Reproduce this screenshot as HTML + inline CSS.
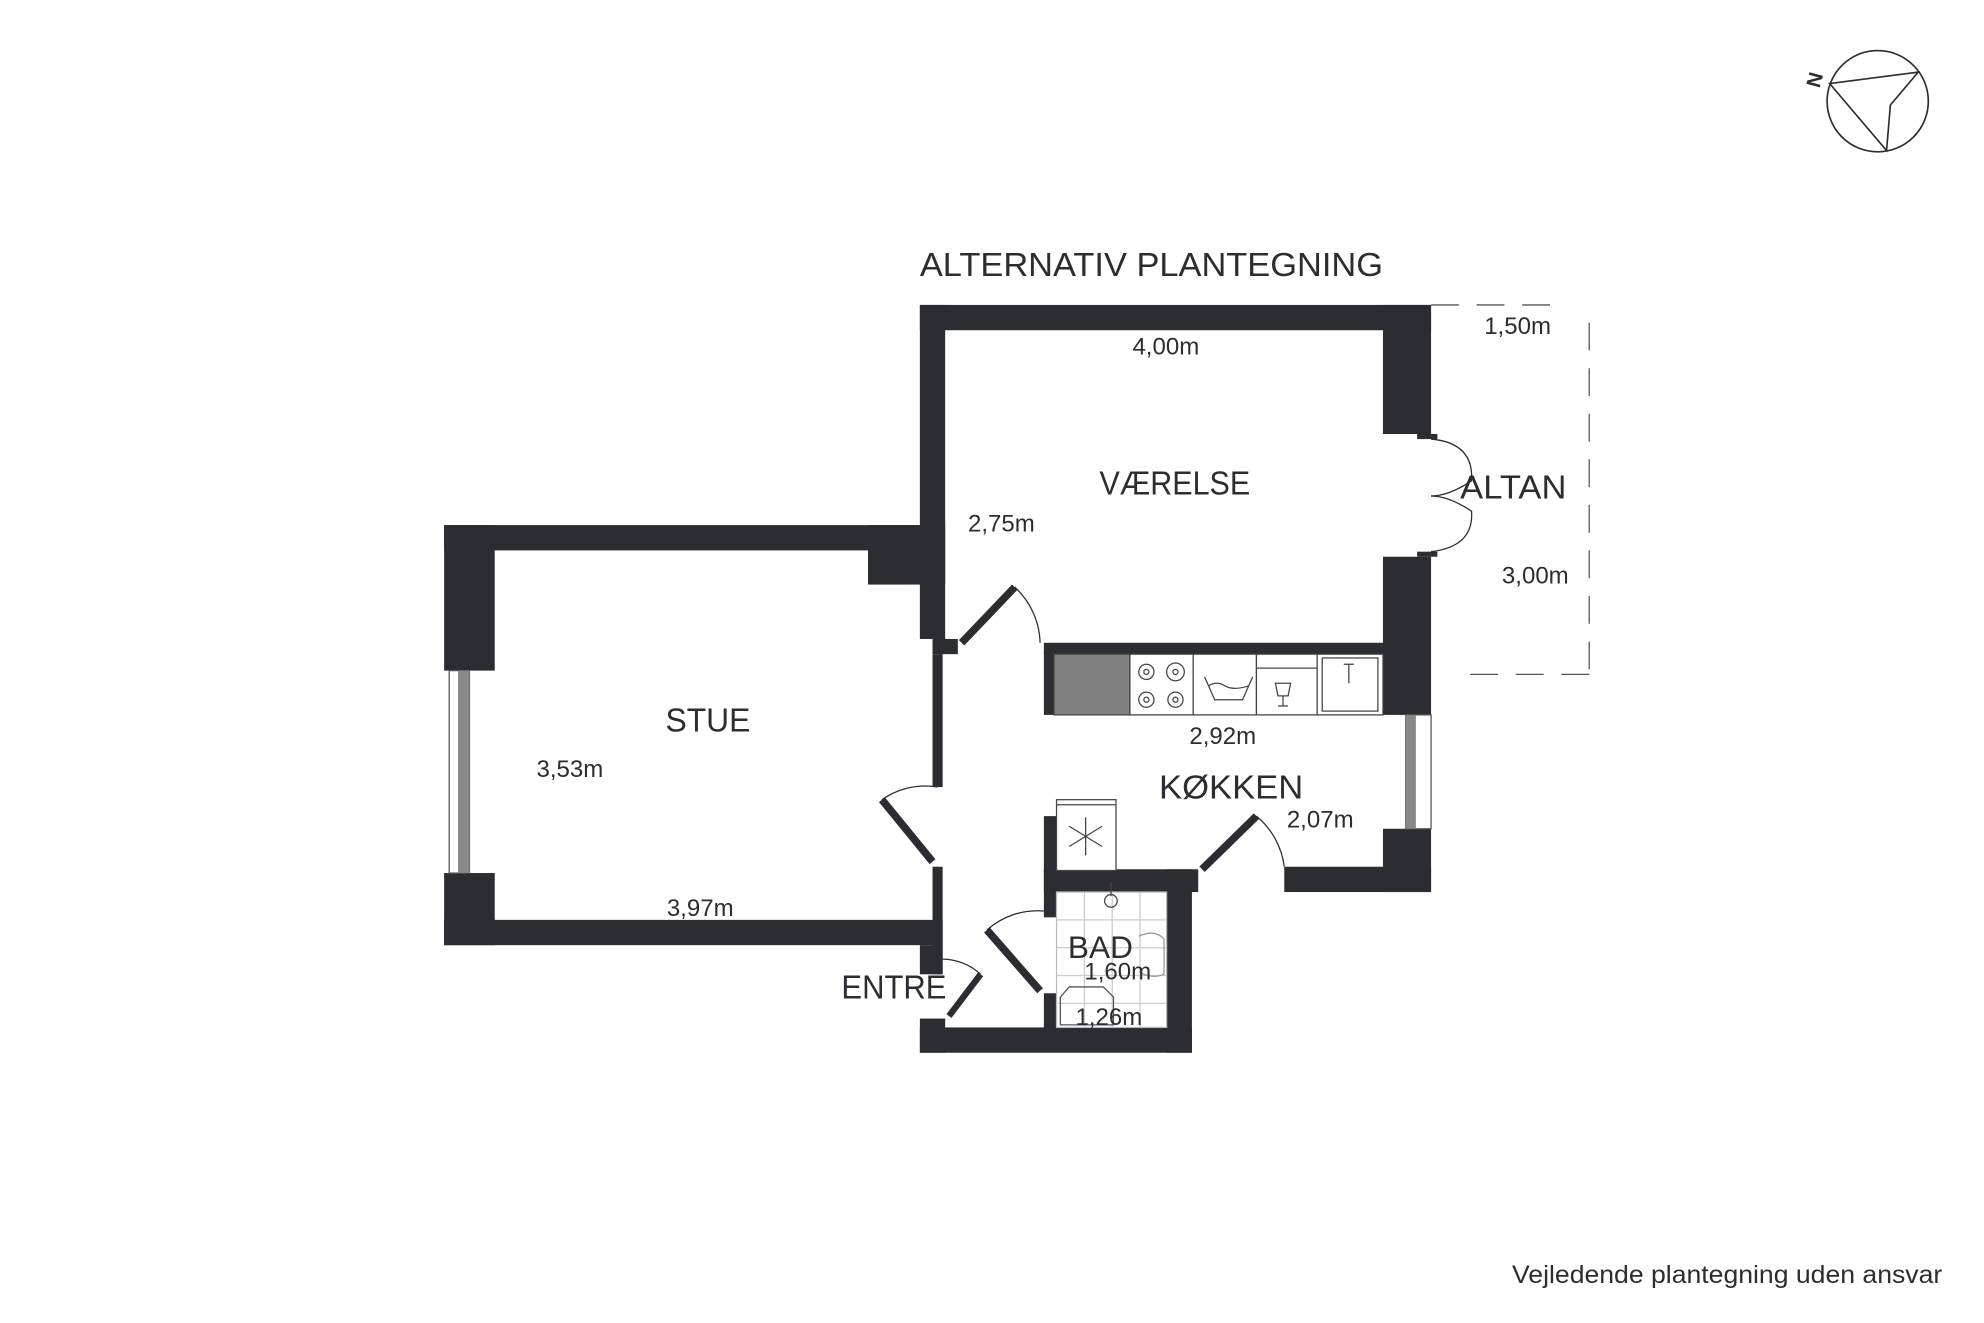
<!DOCTYPE html>
<html><head><meta charset="utf-8"><style>
html,body{margin:0;padding:0;background:#fff}
svg{display:block}
text{font-family:"Liberation Sans",sans-serif;fill:#2b2d33}
</style></head><body>
<svg width="1984" height="1323" viewBox="0 0 1568 1045.6" xmlns="http://www.w3.org/2000/svg">
<g fill="#2b2d33">
<rect x="351" y="415" width="394" height="20"/>
<rect x="351" y="415" width="40" height="115"/>
<rect x="351" y="690" width="40" height="57"/>
<rect x="351" y="727" width="394" height="20"/>
<rect x="686" y="415" width="61" height="47"/>
<rect x="727" y="241" width="404" height="20"/>
<rect x="727" y="241" width="20" height="264"/>
<rect x="737" y="505" width="20" height="12"/>
<rect x="1093" y="241" width="38" height="102"/>
<rect x="1093" y="440" width="38" height="125"/>
<rect x="1120" y="343" width="16" height="4"/>
<rect x="1120" y="436" width="16" height="4"/>
<rect x="737" y="517" width="8" height="105"/>
<rect x="737" y="685" width="8" height="85"/>
<rect x="727" y="747" width="18" height="23"/>
<rect x="727" y="805" width="20" height="27"/>
<rect x="727" y="812" width="215" height="20"/>
<rect x="825" y="508" width="268" height="9"/>
<rect x="825" y="515" width="8" height="50"/>
<rect x="1093" y="655" width="38" height="50"/>
<rect x="1015" y="685" width="116" height="20"/>
<rect x="825" y="645" width="10" height="45"/>
<rect x="825" y="687" width="122" height="18"/>
<rect x="922" y="687" width="20" height="145"/>
<rect x="825" y="687" width="10" height="38"/>
<rect x="825" y="785" width="10" height="30"/>
</g>
<rect x="355" y="530" width="16" height="160" fill="#fff" stroke="#555" stroke-width="1"/>
<rect x="362" y="530" width="9" height="160" fill="#888"/>
<rect x="1111" y="565" width="20" height="90" fill="#fff" stroke="#555" stroke-width="1"/>
<rect x="1111" y="565" width="8" height="90" fill="#888"/>
<g stroke="#2b2d33" fill="none">
<line x1="760" y1="508" x2="802" y2="464" stroke-width="6"/>
<path d="M802 464 A62 62 0 0 1 822 508" stroke-width="1"/>
<line x1="697" y1="632" x2="737" y2="681" stroke-width="6"/>
<path d="M697 632 A60 60 0 0 1 741 622" stroke-width="1"/>
<line x1="750" y1="803" x2="775" y2="770" stroke-width="5"/>
<path d="M745 758 A45 45 0 0 1 775 770" stroke-width="1"/>
<line x1="780" y1="735" x2="822" y2="783" stroke-width="6"/>
<path d="M780 735 A60 60 0 0 1 825 720" stroke-width="1"/>
<line x1="950" y1="687" x2="993" y2="645" stroke-width="6"/>
<path d="M993 645 A62 62 0 0 1 1015 685" stroke-width="1"/>
<path d="M1131 347 Q1165 350 1163 380 Q1145 392 1131 392" stroke-width="1"/>
<path d="M1131 436 Q1165 432 1163 404 Q1145 392 1131 392" stroke-width="1"/>
<g stroke="#555" stroke-width="1" stroke-dasharray="22 14">
<line x1="1131" y1="241" x2="1236" y2="241"/>
<line x1="1256" y1="255" x2="1256" y2="533"/>
<line x1="1256" y1="533" x2="1156" y2="533"/>
</g>
<g stroke="#444" stroke-width="1">
<rect x="833" y="517" width="60" height="48" fill="#808080"/>
<rect x="893" y="517" width="50" height="48" fill="#fff"/>
<rect x="943" y="517" width="50" height="48" fill="#fff"/>
<rect x="993" y="517" width="48" height="48" fill="#fff"/>
<rect x="1041" y="517" width="52" height="48" fill="#fff"/>
<rect x="1045" y="520" width="44" height="42"/>
<line x1="993" y1="528" x2="1041" y2="528"/>
<circle cx="906" cy="531" r="6"/><circle cx="906" cy="531" r="2"/>
<circle cx="929" cy="531" r="7"/><circle cx="929" cy="531" r="2"/>
<circle cx="906" cy="553" r="6"/><circle cx="906" cy="553" r="2"/>
<circle cx="929" cy="553" r="6"/><circle cx="929" cy="553" r="2"/>
<path d="M952 535 L960 553 L982 553 L990 535 M955 542 Q962 538 968 542 Q975 546 987 542"/>
<path d="M1008 540 L1020 540 L1018 550 L1010 550 Z M1014 550 L1014 558 M1010 558 L1018 558"/>
<path d="M1062 525 L1070 525 M1066 525 L1066 540"/>
<rect x="835" y="632" width="47" height="56" fill="#fff"/>
<line x1="835" y1="636" x2="882" y2="636"/>
<path d="M858 646 L858 676 M845 653 L871 669 M845 669 L871 653"/>
<rect x="835" y="705" width="87" height="107" fill="#fff" stroke="#bbb"/>
<g stroke="#ccc"><line x1="835" y1="727" x2="922" y2="727"/><line x1="835" y1="749" x2="922" y2="749"/><line x1="835" y1="771" x2="922" y2="771"/><line x1="835" y1="793" x2="922" y2="793"/><line x1="857" y1="705" x2="857" y2="812"/><line x1="879" y1="705" x2="879" y2="812"/><line x1="901" y1="705" x2="901" y2="812"/></g>
<circle cx="878" cy="712" r="5"/><line x1="878" y1="697" x2="878" y2="708"/>
<path d="M900 740 Q912 734 920 742 L920 770 Q910 774 900 768" stroke="#999"/>
<path d="M845 780 L872 780 L880 788 L880 810 L838 810 L838 788 Z" stroke="#555"/>
</g>
</g>
<text x="727" y="218" font-size="26" textLength="366" lengthAdjust="spacingAndGlyphs">ALTERNATIV PLANTEGNING</text>
<text x="869" y="391" font-size="26" textLength="119" lengthAdjust="spacingAndGlyphs">VÆRELSE</text>
<text x="1154" y="394" font-size="26" textLength="84" lengthAdjust="spacingAndGlyphs">ALTAN</text>
<text x="526" y="578" font-size="26" textLength="67" lengthAdjust="spacingAndGlyphs">STUE</text>
<text x="916" y="631" font-size="26" textLength="114" lengthAdjust="spacingAndGlyphs">KØKKEN</text>
<text x="844" y="757" font-size="25">BAD</text>
<text x="665" y="789" font-size="26" textLength="83" lengthAdjust="spacingAndGlyphs">ENTRÉ</text>
<g font-size="19">
<text x="895" y="280">4,00m</text>
<text x="1173" y="264">1,50m</text>
<text x="765" y="420">2,75m</text>
<text x="1187" y="461">3,00m</text>
<text x="424" y="614">3,53m</text>
<text x="940" y="588">2,92m</text>
<text x="1017" y="654">2,07m</text>
<text x="527" y="724">3,97m</text>
<text x="857" y="774">1,60m</text>
<text x="850" y="810">1,26m</text>
</g>
<text x="1195" y="1014" font-size="20" textLength="340" lengthAdjust="spacingAndGlyphs">Vejledende plantegning uden ansvar</text>
<g stroke="#2b2d33" stroke-width="1.3" fill="none">
<circle cx="1484" cy="80" r="40"/>
<path d="M1446 66 L1516 57 L1494 83 L1491 119 Z"/>
</g>
<text x="0" y="0" font-size="16" font-weight="bold" transform="translate(1438,70) rotate(-75)">N</text>
</svg>
</body></html>
